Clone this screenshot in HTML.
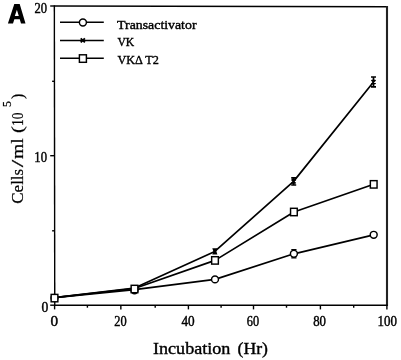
<!DOCTYPE html>
<html>
<head>
<meta charset="utf-8">
<style>
html,body{margin:0;padding:0;background:#fff;width:401px;height:360px;overflow:hidden;}
svg{display:block;position:absolute;left:0;top:0;filter:grayscale(1);}
text{font-family:"Liberation Serif",serif;fill:#000;stroke:#000;stroke-width:0.35px;}
.sans{stroke:#000;stroke-width:0.6px;}
.lg text{stroke-width:0.4px;}
.yl text{stroke-width:0.22px;}
.tl text{stroke-width:0.42px;}
text.xt{stroke-width:0.4px;}
.sans{font-family:"Liberation Sans",sans-serif;}
</style>
</head>
<body>
<svg width="401" height="360" viewBox="0 0 401 360">
<!-- panel label -->
<path d="M7.9,23.4 L14.3,3.9 L19.7,3.9 L25.5,23.4 L21,23.4 L19.77,19.25 L14.36,19.25 L13,23.4 Z M16.9,9.7 L14.8,16.1 L18.8,16.1 Z" fill="#000" fill-rule="evenodd"/>

<!-- frame -->
<g stroke="#000" stroke-width="1.4" fill="none">
<line x1="54.3" y1="6" x2="387.5" y2="6.8"/>
<line x1="54.35" y1="5.3" x2="54.75" y2="305.9"/>
<line x1="387.0" y1="6.1" x2="387.0" y2="305.9" stroke="#222" stroke-width="2.1"/>
<line x1="54" y1="305.2" x2="387.5" y2="305.3"/>
</g>
<!-- y ticks -->
<g stroke="#000" stroke-width="1.4">
<line x1="50.2" y1="6" x2="54.3" y2="6"/>
<line x1="52.1" y1="81.3" x2="54.4" y2="81.3"/>
<line x1="50.2" y1="155.7" x2="54.5" y2="155.7"/>
<line x1="52.1" y1="230.8" x2="54.6" y2="230.8"/>
<line x1="50.2" y1="305.2" x2="54.7" y2="305.2"/>
</g>
<!-- x ticks -->
<g stroke="#000" stroke-width="1.4">
<line x1="54.6" y1="305" x2="54.6" y2="309.4"/>
<line x1="87.4" y1="305" x2="87.4" y2="307.7"/>
<line x1="120.85" y1="305" x2="120.85" y2="309.4"/>
<line x1="155.2" y1="305" x2="155.2" y2="307.7"/>
<line x1="188.4" y1="305" x2="188.4" y2="309.4"/>
<line x1="221.1" y1="305" x2="221.1" y2="307.7"/>
<line x1="253.5" y1="305" x2="253.5" y2="309.4"/>
<line x1="286.5" y1="305" x2="286.5" y2="307.7"/>
<line x1="320.4" y1="305" x2="320.4" y2="309.4"/>
<line x1="353.7" y1="305" x2="353.7" y2="307.7"/>
<line x1="386.9" y1="305" x2="386.9" y2="309.4"/>
</g>
<!-- y tick labels -->
<g font-size="14" class="tl">
<text x="34.5" y="13.2" textLength="12.6" lengthAdjust="spacingAndGlyphs">20</text>
<text x="34.3" y="162.3" textLength="12.7" lengthAdjust="spacingAndGlyphs">10</text>
<text x="41.4" y="312.2" textLength="6.8" lengthAdjust="spacingAndGlyphs">0</text>
</g>
<!-- x tick labels -->
<g font-size="13.7" class="tl">
<text x="50.4" y="325.7" textLength="7.6" lengthAdjust="spacingAndGlyphs">0</text>
<text x="114.2" y="325.7" textLength="12.4" lengthAdjust="spacingAndGlyphs">20</text>
<text x="181.5" y="325.7" textLength="13.2" lengthAdjust="spacingAndGlyphs">40</text>
<text x="246.8" y="325.7" textLength="12.3" lengthAdjust="spacingAndGlyphs">60</text>
<text x="313.2" y="325.7" textLength="12.8" lengthAdjust="spacingAndGlyphs">80</text>
<text x="377.6" y="325.7" textLength="19.4" lengthAdjust="spacingAndGlyphs">100</text>
</g>
<!-- axis titles -->
<text class="xt" x="153.0" y="354.2" font-size="17" textLength="77.4" lengthAdjust="spacingAndGlyphs">Incubation</text>
<text class="xt" x="237.6" y="354.2" font-size="17" textLength="30.4" lengthAdjust="spacingAndGlyphs">(Hr)</text>
<g transform="translate(23.1,204.2) rotate(-90)" class="yl" font-size="17">
<text x="0.5" y="0" textLength="34.9" lengthAdjust="spacingAndGlyphs">Cells</text>
<text x="37.0" y="0" textLength="7.5" lengthAdjust="spacingAndGlyphs">/</text>
<text x="45.2" y="0" textLength="20.8" lengthAdjust="spacingAndGlyphs">ml</text>
<text x="71.2" y="0" textLength="6.9" lengthAdjust="spacingAndGlyphs">(</text>
<text x="78.1" y="0" textLength="13.6" lengthAdjust="spacingAndGlyphs">10</text>
<text x="97.2" y="-11.9" font-size="11.8">5</text>
<text x="105.2" y="-0.5" font-size="16">)</text>
</g>

<!-- legend -->
<g stroke="#000" stroke-width="1.5" fill="#fff">
<line x1="60" y1="22.3" x2="103.8" y2="22.3"/>
<circle cx="82.9" cy="22.45" r="3.5" stroke-width="1.45"/>
<line x1="60" y1="40.4" x2="103.8" y2="40.4"/>
<line x1="60" y1="58.3" x2="103.8" y2="58.3"/>
<rect x="79.4" y="54.8" width="7.0" height="7.5" stroke-width="1.45"/>
</g>
<g font-size="13.2" class="lg">
<text x="117.1" y="28.6" textLength="79.4" lengthAdjust="spacingAndGlyphs">Transactivator</text>
<text x="117.4" y="46.1" textLength="16.8" lengthAdjust="spacingAndGlyphs">VK</text>
<text x="117.4" y="63.8" textLength="41.4" lengthAdjust="spacingAndGlyphs">VK&#916; T2</text>
</g>

<!-- data lines -->
<g stroke="#000" stroke-width="1.7" fill="none" stroke-linejoin="round">
<polyline points="54.5,297.6 134.5,289.6 215,279.4 293.9,253.8 373.7,234.8"/>
<polyline points="54.5,297.6 134.5,288.5 215,260.4 293.9,212 373.7,184.3"/>
<polyline points="54.5,297.6 134.5,288 214.8,251.4 293.6,181.4 373.5,82"/>
</g>
<!-- markers -->
<g stroke="#000" stroke-width="1.45" fill="#fff">
<circle cx="54.5" cy="298" r="3.45"/>
<circle cx="134.5" cy="290.4" r="3.45"/>
<circle cx="215" cy="279.4" r="3.45"/>
<circle cx="293.9" cy="253.8" r="3.45"/>
<circle cx="373.7" cy="234.8" r="3.45"/>
<rect x="51.15" y="294.40" width="6.7" height="7.4"/>
<rect x="131.15" y="285.3" width="6.7" height="7.4"/>
<rect x="211.65" y="256.70" width="6.7" height="7.4"/>
<rect x="290.55" y="208.30" width="6.7" height="7.4"/>
<rect x="370.35" y="180.65" width="6.7" height="7.4"/>
</g>
<path d="M291.3,249.7 H296.5 M291.3,257.9 H296.5" stroke="#000" stroke-width="1.3"/>
<!-- VK markers -->
<g stroke="#000" stroke-width="1.3" fill="none">
<path d="M80.7,38.4 L84.9,42.4 M84.9,38.4 L80.7,42.4" stroke-width="1.9"/>
<path d="M212.3,248.3 H217.4 L216.4,251.4 L217.4,254.6 H212.3 L213.4,251.4 Z" fill="#000" stroke="none"/>
<path d="M291.6,179.3 L295.6,183.5 M295.6,179.3 L291.6,183.5 M291.2,177.9 H296.2 M291.2,185 H296.2 M293.6,177.8 V185.2" stroke-width="1.7"/>
<path d="M371.5,80 L375.5,84 M375.5,80 L371.5,84 M371,77 H376 M371,86.8 H376 M373.5,76.9 V86.9" stroke-width="1.7"/>
</g>
</svg>
</body>
</html>
